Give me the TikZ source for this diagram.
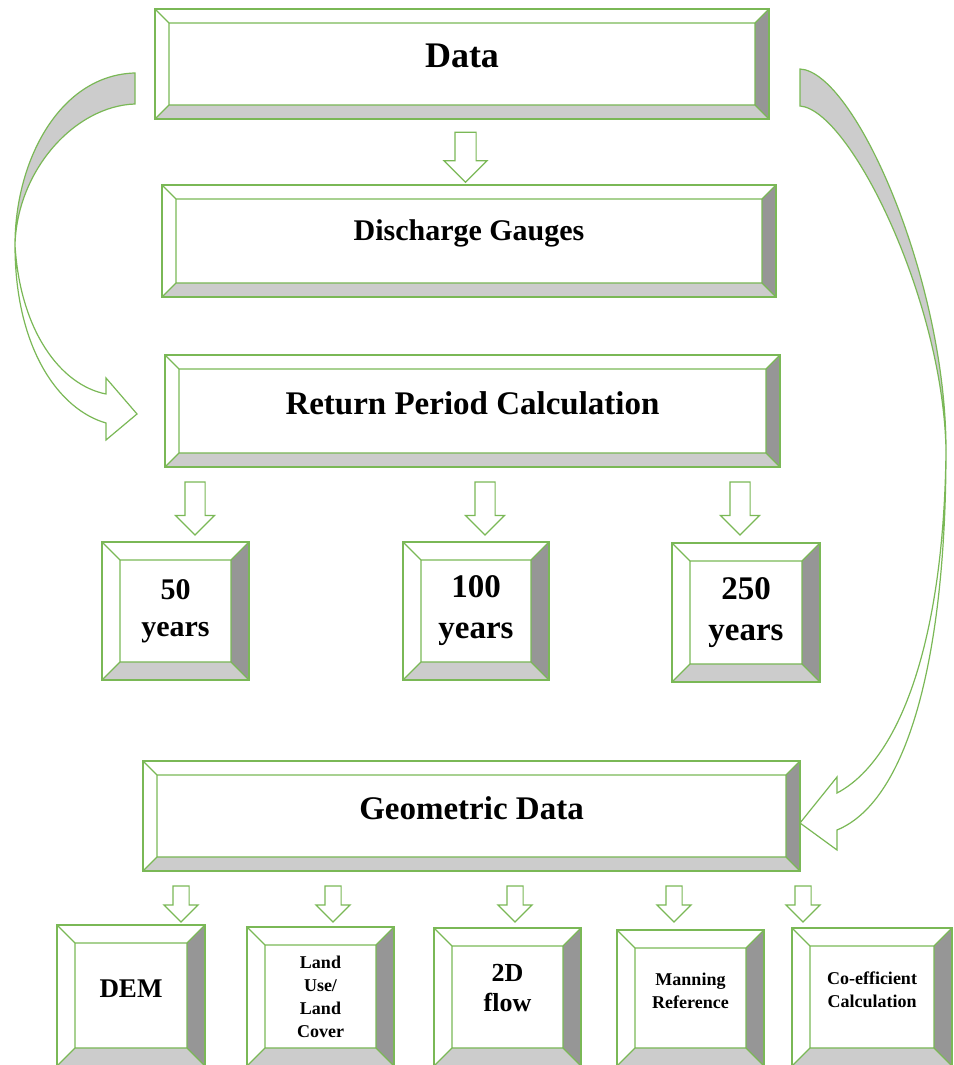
\documentclass[tikz,border=0pt]{standalone}
\usepackage{fontspec}
\setmainfont{Liberation Serif}
\usetikzlibrary{shapes.arrows,calc}

\definecolor{gline}{RGB}{122,184,86}
\definecolor{bevlight}{RGB}{204,204,204}
\definecolor{bevdark}{RGB}{150,150,150}

% bevel frame round a named box node: #1 node, #2 bevel depth
\newcommand\bevel[2]{%
  \fill[bevlight] (#1.south west) -- (#1.south east) -- ($(#1.south east)+(-#2,#2)$) -- ($(#1.south west)+(#2,#2)$) -- cycle;
  \fill[bevdark] (#1.south east) -- (#1.north east) -- ($(#1.north east)+(-#2,-#2)$) -- ($(#1.south east)+(-#2,#2)$) -- cycle;
  \draw[gline, line width=1.4pt] (#1.south west) rectangle (#1.north east);
  \draw[gline, line width=1.1pt] ($(#1.south west)+(#2,#2)$) rectangle ($(#1.north east)+(-#2,-#2)$)
    (#1.south west) -- ++(#2,#2) (#1.south east) -- ++(-#2,#2)
    (#1.north west) -- ++(#2,-#2) (#1.north east) -- ++(-#2,-#2);
}

\begin{document}
\begin{tikzpicture}[
    x=1pt, y=1pt,
    bbox/.style 2 args={rectangle, minimum width=#1, minimum height=#2, inner sep=0pt, outer sep=0pt, align=center},
    bigtxt/.style={font=\bfseries\fontsize{#1}{#1}\selectfont},
    smalltxt/.style={font=\bfseries\fontsize{18}{23}\selectfont},
    hollowarr/.style n args={3}{single arrow, draw=gline, fill=white, line width=1.2pt, rotate=-90,
        minimum height=#1, inner xsep=0pt, inner ysep=#2, minimum width=0pt,
        single arrow head extend=#3, outer sep=0pt},
    curvedarr/.style={draw=gline, line width=1.2pt}
    ]
    \useasboundingbox (0,0) rectangle (953,1065);

    % boxes
    \node[bbox={614}{110}, bigtxt=36, text depth=16pt] (data) at (462,1001) {Data};
    \node[bbox={614}{112}, bigtxt=30, text depth=22pt] (gauges) at (469,824) {Discharge Gauges};
    \node[bbox={615}{112}, bigtxt=33, text depth=16pt] (retper) at (472.5,654) {Return Period Calculation};
    \node[bbox={147}{138}, font=\bfseries\fontsize{30}{37}\selectfont] (y50) at (175.5,454) {50\\years};
    \node[bbox={146}{138}, font=\bfseries\fontsize{33}{41}\selectfont] (y100) at (476,454) {100\\years};
    \node[bbox={148}{139}, font=\bfseries\fontsize{33}{41}\selectfont] (y250) at (746,452.5) {250\\years};
    \node[bbox={657}{110}, bigtxt=33, text depth=16pt] (geom) at (471.5,249) {Geometric Data};
    \node[bbox={148}{141}, bigtxt=27, text depth=14pt] (dem) at (131,69.5) {DEM};
    \node[bbox={147}{139}, smalltxt] (landuse) at (320.5,68.5) {Land\\Use/\\Land\\Cover};
    \node[bbox={147}{138}, font=\bfseries\fontsize{26}{30}\selectfont, text depth=18pt] (flow) at (507.5,68) {2D\\flow};
    \node[bbox={147}{136}, smalltxt, text depth=14pt] (manning) at (690.5,67) {Manning\\Reference};
    \node[bbox={160}{138}, smalltxt, text depth=14pt] (coeff) at (872,68) {Co-efficient\\Calculation};

    \foreach \b in {data,gauges,retper,geom} \bevel{\b}{14};
    \foreach \b in {y50,y100,y250,dem,landuse,flow,manning,coeff} \bevel{\b}{18};

    % straight arrows
    \node[hollowarr={50}{10pt}{11pt}] (a0) at ($(data.south)!0.5!(gauges.north)$) {};
    \foreach \ax/\nm in {195/a50, 485/a100, 740/a250}
        \node[hollowarr={53}{9.5pt}{9.5pt}] (\nm) at (\ax,561.5) {};
    \foreach \ax [count=\i] in {181,333,515,674,803}
        \node[hollowarr={36}{7.5pt}{9pt}] (b\i) at (\ax,165) {};

    % curved arrows
    \coordinate (ls) at ($(data.west)+(-20,-9)$);
    \coordinate (lt) at ($(retper.west)+(-28,-3)$);
    \coordinate (rs) at ($(data.east)+(31,-5)$);
    \coordinate (rt) at ($(geom.east)+(0,-7)$);
    \filldraw[curvedarr, fill=bevlight] (ls) .. controls (60,990) and (15,905) .. (15,820)
        .. controls (17,895) and (75,959) .. (135,961) -- cycle;
    \filldraw[curvedarr, fill=white] (15,820) .. controls (15,715) and (60,655) .. (106,642)
        -- (106,625) -- (lt) -- (106,687) -- (106,671)
        .. controls (60,680) and (20,735) .. (15,820) -- cycle;
    \filldraw[curvedarr, fill=bevlight] (rs) .. controls (855,993) and (946,785) .. (946,615)
        .. controls (943,765) and (850,955) .. (800,959) -- cycle;
    \filldraw[curvedarr, fill=white] (946,615) .. controls (946,415) and (910,265) .. (837,235)
        -- (837,215) -- (rt) -- (837,288) -- (837,272)
        .. controls (900,305) and (944,425) .. (946,615) -- cycle;
\end{tikzpicture}
\end{document}
